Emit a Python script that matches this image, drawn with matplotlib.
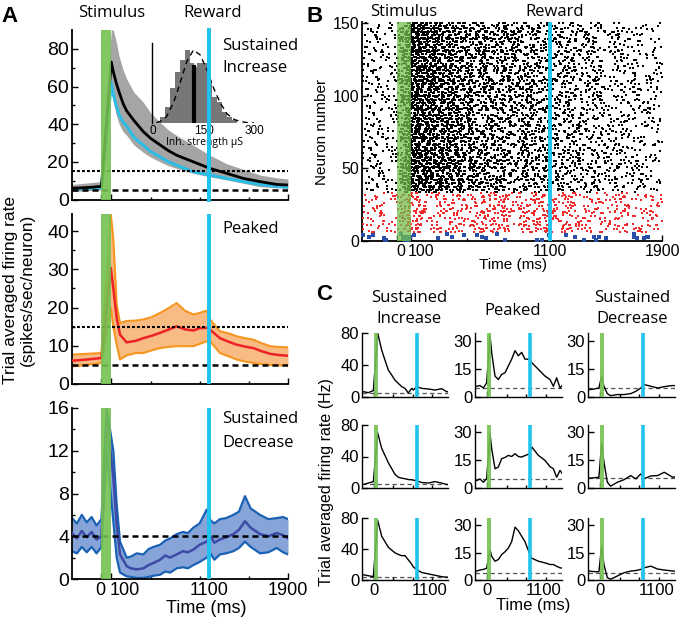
import matplotlib
matplotlib.use('Agg')
import numpy as np
import matplotlib.pyplot as plt
from matplotlib.transforms import blended_transform_factory
from matplotlib.lines import Line2D

# ---------------- data ----------------
# Panel A top: Sustained Increase
A1_T = [-300, -200, -100, 0, 100, 120, 150, 180, 220, 257, 330, 427, 500, 597, 680, 766, 936, 1106, 1275, 1445, 1615, 1785, 1900]
A1_MEAN = [6.0, 6.2, 6.5, 7.0, 73, 68, 62, 57, 51, 47, 42, 36, 32.5, 29, 26, 23.5, 20, 16.5, 13.9, 11.2, 9.5, 8.0, 7.7]
A1_UP = [8.0, 8.5, 9.0, 9.5, 90, 90, 84, 76, 69, 64, 57, 51.6, 46, 41, 37, 34, 28.8, 23.5, 19, 16, 13, 11.5, 10.9]
A1_LO = [4.2, 4.5, 4.8, 5.0, 58, 52, 45, 40, 36, 34, 29, 25, 22.5, 20, 18, 16.5, 13.9, 12, 10.4, 8.6, 6.8, 6.2, 6.0]
A1_MODEL = [5.5, 5.8, 6.0, 6.3, 62, 56, 50, 45, 41, 39, 33, 28.8, 25.5, 22.6, 20, 18.2, 14.7, 13, 11.2, 9.5, 8.0, 7.0, 6.5]

# Inset histogram of inhibitory strength
INS_BIN = [27.5, 42.5, 57.5, 72.5, 87.5, 102.5, 114, 122.5, 137.5, 152.5, 167.5, 182.5, 197.5, 212.5, 227.5, 242.5]
INS_CNT = [20, 50, 105, 155, 190, 220, 180, 170, 180, 180, 125, 80, 65, 35, 20, 10]
INS_FIT_X = [10, 20, 40, 60, 80, 100, 120, 140, 160, 180, 200, 220, 240, 260, 280, 300]
INS_FIT_Y = [2, 5, 20, 60, 120, 185, 220, 205, 160, 105, 60, 28, 12, 5, 2, 1]
INS_MEAN = 123

# Panel A middle: Peaked
A2_T = [-300, -150, 0, 95, 121, 155, 189, 257, 350, 427, 510, 597, 680, 766, 850, 936, 1000, 1072, 1106, 1207, 1300, 1377, 1460, 1547, 1630, 1717, 1800, 1900]
A2_MEAN = [6.1, 6.4, 6.8, 30.4, 25, 17.3, 12.9, 10.9, 11.3, 12, 12.6, 13.4, 14.2, 15.1, 14.3, 14, 14.6, 14.7, 14.2, 12, 11, 10.3, 9.8, 9.4, 8.6, 7.9, 7.6, 7.4]
A2_UP = [7.7, 7.9, 8.1, 44.5, 38, 20.8, 16, 16.5, 16.6, 16.9, 17.5, 18.6, 19.8, 21.2, 19.2, 18.2, 18.6, 19.2, 16.9, 13.8, 13.2, 12.5, 12, 11.6, 10.7, 9.9, 9.7, 9.6]
A2_LO = [4.6, 5.0, 5.5, 20, 15, 10.3, 6.4, 7.5, 8.1, 8.1, 8.8, 9.4, 9.7, 9.9, 9.9, 9.9, 10.5, 11.2, 11.2, 8.1, 7.2, 6.4, 5.9, 5.5, 5.2, 5.0, 4.9, 4.9]

# Panel A bottom: Sustained Decrease
A3_T = [-300, -250, -200, -150, -100, -50, 0, 53, 121, 155, 189, 257, 300, 359, 427, 480, 529, 597, 650, 700, 766, 830, 880, 936, 1000, 1072, 1110, 1150, 1207, 1270, 1343, 1400, 1462, 1520, 1615, 1700, 1785, 1850, 1900]
A3_MEAN = [4.3, 3.8, 4.5, 3.9, 4.4, 3.7, 4.0, 15.4, 9.5, 5.1, 2.3, 1.2, 1.0, 0.9, 1.0, 1.3, 1.5, 1.8, 2.2, 2.0, 2.3, 2.6, 2.5, 2.75, 3.2, 3.5, 4.0, 3.4, 3.7, 3.9, 4.2, 4.6, 5.4, 4.8, 4.2, 4.0, 4.3, 4.1, 3.8]
A3_UP = [5.7, 5.2, 6.0, 5.3, 5.8, 5.0, 5.6, 16.0, 12.0, 7.0, 3.5, 2.0, 2.1, 2.4, 2.3, 2.8, 3.0, 3.2, 3.6, 3.8, 4.2, 4.4, 4.3, 4.8, 5.2, 6.5, 5.5, 5.2, 5.6, 5.7, 6.0, 6.3, 7.75, 6.6, 6.0, 5.6, 5.7, 5.8, 5.6]
A3_LO = [2.6, 2.4, 3.0, 2.5, 3.0, 2.4, 3.0, 12.0, 5.4, 2.0, 0.6, 0.25, 0.2, 0.1, 0.1, 0.2, 0.3, 0.4, 0.7, 0.6, 1.0, 1.1, 1.0, 1.3, 1.6, 2.0, 2.4, 1.8, 2.3, 2.4, 2.6, 2.9, 3.5, 3.0, 2.4, 2.5, 2.9, 2.5, 2.3]

# Panel C: example neurons (time ms, rate Hz)
C1_T = [-300, -266, -138, -10, 101, 203, 288, 374, 459, 544, 630, 715, 800, 885, 971, 1013, 1098, 1226, 1397, 1567, 1738, 1866, 1900]
C1_R1 = [6, 6.7, 5.4, 8, 80, 58.8, 46, 33.7, 27.5, 21, 17, 13, 10.8, 5.0, 10.8, 8.7, 13, 10.8, 10, 8.7, 10.4, 6.7, 6.5]
C1_R2 = [5, 4.4, 6.3, 8, 70, 50.5, 41.3, 32, 24.7, 17.3, 13.6, 12.5, 11.8, 10.7, 10.5, 10, 9.2, 7, 6.3, 8.1, 6.3, 4.4, 4.5]
C1_R3 = [6, 6.8, 5.5, 4.3, 77, 56.6, 49.4, 42.2, 38.6, 35, 33, 31.4, 31.4, 26, 20.5, 17, 13.3, 9.7, 7.9, 6.1, 4.3, 3.6, 3.6]
C2_T = [-300, -258, -174, -89, -5, 79, 121, 206, 290, 374, 459, 543, 627, 712, 796, 880, 964, 1091, 1133, 1302, 1470, 1597, 1681, 1765, 1850, 1900]
C2_R1 = [5.5, 5.7, 6.1, 4.8, 7.5, 32.7, 23.7, 11.1, 9.3, 12, 12.9, 16.5, 20.1, 24.6, 21.9, 23.7, 20.1, 20.1, 18.3, 14.7, 11.1, 9.3, 5.7, 10.2, 4.8, 6]
C2_R2 = [4, 4, 4.9, 3.1, 5, 29.5, 21.3, 10.4, 11.3, 15.8, 16.5, 17.6, 17, 18.5, 17, 16.7, 17.5, 18.5, 22.2, 17.6, 14.9, 11.5, 10.4, 5.8, 9.5, 8]
C2_R3 = [4.9, 4.9, 5.5, 5.8, 6.5, 16.6, 13, 10.3, 11.2, 13.9, 15.5, 17.5, 21, 29, 27, 24, 21, 13.9, 12, 10.3, 9.4, 8.5, 8.5, 7.5, 6.7, 6.5]
C3_T = [-300, -279, -151, -24, 44, 103, 188, 272, 442, 612, 781, 908, 1035, 1120, 1290, 1459, 1629, 1841, 1900]
C3_R1 = [3.9, 3.9, 4.2, 4.8, 11.1, 5.7, 1.8, 0.7, 1.3, 1.3, 1.8, 3.0, 4.8, 6.6, 5.7, 4.8, 5.5, 6.1, 6.0]
C3_R2 = [5.3, 5.3, 5.5, 5.8, 24, 14, 3.1, 1.0, 3.1, 4.5, 6.7, 4.9, 7.6, 5.0, 6.5, 6.7, 8.5, 5.8, 6.0]
C3_R3 = [4.9, 4.9, 4.6, 4.5, 18.4, 8.5, 1.3, 0.4, 2.2, 4.0, 4.9, 5.2, 5.8, 6.7, 7.6, 6.0, 5.5, 4.9, 4.9]
C_BASE = [[4.5, 5, 4.3], [4.8, 4.9, 4.0], [4.8, 5.3, 3.6]]

# Panel B raster: neuron groups (first neuron, count) driven by the panel A rates
RASTER_GROUPS = [(34, 117), (6, 28), (1, 5)]

STIM = (0, 100)
REWARD = 1100

# ---------------- style ----------------
GREEN = '#74c152'
CYAN = '#1fc3ee'
TICKF = 'Liberation Sans'
TEXTF = 'Open Sans'
plt.rcParams['font.family'] = [TICKF, 'DejaVu Sans']
W, H = 681, 623

fig = plt.figure(figsize=(W / 100, H / 100), dpi=100)


def axpix(x0, y0, x1, y1):
    return fig.add_axes([x0 / W, 1 - y1 / H, (x1 - x0) / W, (y1 - y0) / H])


def ftext(x, y, s, **kw):
    kw.setdefault('family', [TEXTF, 'DejaVu Sans'])
    kw.setdefault('fontsize', 12)
    return fig.text(x / W, 1 - y / H, s, **kw)


def style(ax, fs, lw=1.3, xfs=None):
    for s in ['top', 'right']:
        ax.spines[s].set_visible(False)
    for s in ['left', 'bottom']:
        ax.spines[s].set_linewidth(lw)
    ax.tick_params(direction='in', length=4, width=1, labelsize=fs, pad=2)
    if xfs is not None:
        ax.tick_params(axis='x', labelsize=xfs)
    ax.tick_params(which='minor', direction='in', length=2.5, width=1)
    ax.patch.set_alpha(0)


def events(ax, lw=2.8, alpha=0.9):
    ax.axvspan(STIM[0], STIM[1], color=GREEN, alpha=alpha, lw=0, zorder=5)
    ax.axvline(REWARD, color=CYAN, lw=lw, zorder=6)


def xlab(ax, x, s, dx_px, fs):
    ax.annotate(s, xy=(x, 0), xycoords=('data', 'axes fraction'),
                xytext=(dx_px * 0.72, -2), textcoords='offset points',
                ha='center', va='top', fontsize=fs, family=TICKF, annotation_clip=False)


# ---------------- Panel A ----------------
axA1 = axpix(72, 30, 288, 199.5)
axA2 = axpix(72, 214, 288, 384)
axA3 = axpix(72, 408, 288, 579)

axA1.fill_between(A1_T, A1_LO, A1_UP, color='#a5a5a5', lw=0, zorder=1)
axA1.plot(A1_T, A1_MODEL, color='#2cbde6', lw=2.2, zorder=2)
axA1.plot(A1_T, A1_MEAN, color='k', lw=2.0, zorder=3)
axA1.axhline(15, color='k', lw=1.5, ls=(0, (1.4, 1.0)), zorder=4)
axA1.axhline(5, color='k', lw=1.8, ls=(0, (2.4, 1.6)), zorder=4)
axA1.set_ylim(0, 90)
axA1.set_yticks([0, 20, 40, 60, 80])
axA1.set_yticks([10, 30, 50, 70], minor=True)

axA2.fill_between(A2_T, A2_LO, A2_UP, color='#f9bb84', lw=0, zorder=1)
axA2.plot(A2_T, A2_UP, color='#f6951f', lw=1.5, zorder=2)
axA2.plot(A2_T, A2_LO, color='#f6951f', lw=1.5, zorder=2)
axA2.plot(A2_T, A2_MEAN, color='#ec2227', lw=1.8, zorder=3)
axA2.axhline(15, color='k', lw=1.5, ls=(0, (1.4, 1.0)), zorder=4)
axA2.axhline(5, color='k', lw=1.8, ls=(0, (2.4, 1.6)), zorder=4)
axA2.set_ylim(0, 44.5)
axA2.set_yticks([0, 10, 20, 30, 40])
axA2.set_yticks([5, 15, 25, 35], minor=True)

axA3.fill_between(A3_T, A3_LO, A3_UP, color='#86a4d8', lw=0, zorder=1)
axA3.plot(A3_T, A3_UP, color='#1a62b5', lw=1.6, zorder=2)
axA3.plot(A3_T, A3_LO, color='#1a62b5', lw=1.6, zorder=2)
axA3.plot(A3_T, A3_MEAN, color='#3d4aa6', lw=1.8, zorder=3)
axA3.axhline(4, color='k', lw=1.8, ls=(0, (2.4, 1.6)), zorder=4)
axA3.set_ylim(0, 16)
axA3.set_yticks([0, 4, 8, 12, 16])
axA3.set_yticks([2, 6, 10, 14], minor=True)

for ax in (axA1, axA2, axA3):
    ax.set_xlim(-300, 1900)
    ax.set_xticks([0, 100, 1100, 1900])
    ax.set_xticks([500, 1000, 1500], minor=True)
    events(ax)
for ax in (axA1, axA2):
    ax.set_xticklabels([])
axA3.set_xticklabels(['', '', '1100', '1900'])
for ax in (axA1, axA2, axA3):
    style(ax, 14, xfs=13)
xlab(axA3, 0, '0', -1, 13)
xlab(axA3, 100, '100', 13, 13)

# inset histogram
axI = axpix(151.7, 43.3, 257.5, 123.3)
axI.bar(INS_BIN, INS_CNT, width=15, color='#777777', lw=0, zorder=1)
axI.plot([INS_MEAN, INS_MEAN], [0, 170], color='k', lw=3, zorder=2)
axI.plot(INS_FIT_X, INS_FIT_Y, color='k', lw=1.0, ls=(0, (4, 3)), zorder=3)
axI.set_xlim(-4, 310)
axI.set_ylim(0, 240)
axI.set_xticks([0, 150, 300])
axI.set_yticks([])
style(axI, 8.5, lw=1.0)
axI.spines['bottom'].set_visible(False)
axI.tick_params(axis='x', length=0, pad=1)
axI.set_xlabel('Inh. strength \u03bcS', family=[TEXTF, 'DejaVu Sans'], fontsize=7.5, labelpad=0)
cyan_over = Line2D([REWARD, REWARD], [0, 1], color=CYAN, lw=2.8,
                   transform=blended_transform_factory(axA1.transData, axA1.transAxes), zorder=10)
fig.add_artist(cyan_over)

ftext(19 - 8.5, 290, 'Trial averaged firing rate', rotation=90, ha='center', va='center',
      family=TICKF, fontsize=12.5)
ftext(19 + 8.5, 290, '(spikes/sec/neuron)', rotation=90, ha='center', va='center',
      family=TICKF, fontsize=12.5)
ftext(206, 613, 'Time (ms)', ha='center', va='baseline', family=TICKF, fontsize=13)

ftext(112, 17, 'Stimulus', ha='center', va='baseline')
ftext(213, 17, 'Reward', ha='center', va='baseline')
ftext(222, 50, 'Sustained', ha='left', va='baseline')
ftext(222, 72, 'Increase', ha='left', va='baseline')
ftext(222, 233, 'Peaked', ha='left', va='baseline')
ftext(222, 423, 'Sustained', ha='left', va='baseline')
ftext(222, 447, 'Decrease', ha='left', va='baseline')

# ---------------- Panel B ----------------
axB = axpix(362, 22, 662, 241)


def raster(t_pts, r_pts, first, n):
    grid = np.arange(-250.0, 1900.0, 1.0)
    rate = np.interp(grid, t_pts, r_pts)
    xs, ys = [], []
    for i in range(n):
        g = first + i
        scale = 0.55 + 0.9 * ((g * 0.6180339887) % 1.0)
        cum = np.cumsum(rate * scale) / 1000.0
        level = (g * 0.7548776662) % 1.0
        k = 0
        while level < cum[-1]:
            idx = int(np.searchsorted(cum, level))
            xs.append(grid[min(idx, len(grid) - 1)])
            ys.append(g)
            k += 1
            u = (k * 0.6180339887 + g * 0.4142135624) % 1.0
            level += -np.log(1.0 - 0.97 * u)
    return xs, ys


groups = [(A1_T, A1_MEAN, 'k', 2.0), (A2_T, A2_MEAN, '#ee2a2a', 2.0), (A3_T, A3_MEAN, '#2a4fa8', 2.6)]
for (tp, rp, col, ms), (first, n) in zip(groups, RASTER_GROUPS):
    xs, ys = raster(tp, rp, first, n)
    axB.plot(xs, ys, 's', ms=ms, mew=0, color=col, zorder=3, clip_on=False)
events(axB, alpha=0.75)
axB.set_xlim(-250, 1900)
axB.set_ylim(0, 151)
axB.set_yticks([0, 50, 100, 150])
axB.set_xticks([0, 100, 1100, 1900])
axB.set_xticks([500, 1000, 1500], minor=True)
axB.set_xticklabels(['', '', '1100', '1900'])
style(axB, 11.5)
xlab(axB, 0, '0', 4, 11.5)
xlab(axB, 100, '100', 10, 11.5)
ftext(322, 132, 'Neuron number', rotation=90, ha='center', va='center', family=TICKF, fontsize=11)
ftext(513, 269, 'Time (ms)', ha='center', va='baseline', family=TICKF, fontsize=11)
ftext(404, 16, 'Stimulus', ha='center', va='baseline')
ftext(555, 16, 'Reward', ha='center', va='baseline')

# ---------------- Panel C ----------------
cols_x = [(362, 448), (475, 562), (588, 675)]
rows_y = [(333, 397), (425, 488), (518, 580)]
C_T = [C1_T, C2_T, C3_T]
C_R = [[C1_R1, C1_R2, C1_R3], [C2_R1, C2_R2, C2_R3], [C3_R1, C3_R2, C3_R3]]
for ci, (x0, x1) in enumerate(cols_x):
    for ri, (y0, y1) in enumerate(rows_y):
        ax = axpix(x0, y0, x1, y1)
        ax.plot(C_T[ci], C_R[ci][ri], color='k', lw=1.0, zorder=2)
        ax.axhline(C_BASE[ci][ri], color='#555555', lw=0.9, ls=(0, (3.5, 2.5)), zorder=1)
        events(ax, lw=2.6)
        ax.set_xlim(-300, 1900)
        if ci == 0:
            ax.set_ylim(0, 80)
            ax.set_yticks([0, 40, 80])
        else:
            ax.set_ylim(0, 34)
            ax.set_yticks([0, 15, 30])
        ax.set_xticks([0, 1100])
        ax.set_xticks([500, 1000, 1500], minor=True)
        if ri == 2:
            ax.set_xticklabels(['0', ''])
        else:
            ax.set_xticklabels([])
        style(ax, 12, lw=1.0)
        if ri == 2:
            xlab(ax, 1100, '1100', 13, 12)

ftext(409, 302, 'Sustained', ha='center', va='baseline')
ftext(409, 323, 'Increase', ha='center', va='baseline')
ftext(513, 315, 'Peaked', ha='center', va='baseline')
ftext(632, 302, 'Sustained', ha='center', va='baseline')
ftext(632, 323, 'Decrease', ha='center', va='baseline')
ftext(326, 482, 'Trial averaged firing rate (Hz)', rotation=90, ha='center', va='center',
      family=TICKF, fontsize=11.5)
ftext(533, 610, 'Time (ms)', ha='center', va='baseline', family=TICKF, fontsize=12)

# panel letters
ftext(10, 22, 'A', ha='center', va='baseline', family=TICKF, fontsize=16, fontweight='bold')
ftext(315, 22, 'B', ha='center', va='baseline', family=TICKF, fontsize=16, fontweight='bold')
ftext(324, 300, 'C', ha='center', va='baseline', family=TICKF, fontsize=16, fontweight='bold')

fig.savefig('out.png', dpi=100)
